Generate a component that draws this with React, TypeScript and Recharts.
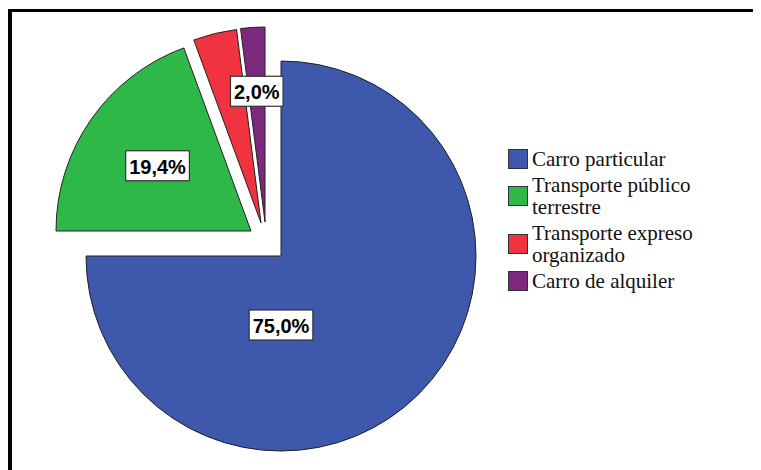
import { Cell, Pie, PieChart } from "recharts"

const categories = [
  "Carro particular",
  "Transporte público terrestre",
  "Transporte expreso organizado",
  "Carro de alquiler",
]
const shares = [75.0, 19.4, 3.6, 2.0]
const colors = ["#3E58AC", "#2EB848", "#EF3340", "#7C287D"]
const showLabel = [true, true, false, true]

const data = categories.map((name, i) => ({ name, value: shares[i] }))

const W = 753
const H = 462
const CX = 273
const CY = 248
const R = 195

// SPSS pulls every slice except the big one out a little
const offsets = [
  [0, 0],
  [-30, -25],
  [-20, -33],
  [-16, -34],
]
// distance of the % box from the slice tip (angle only where SPSS ignores the mid angle)
const labelSpots: { r: number; angle?: number }[] = [{ r: 69, angle: -90 }, { r: 114 }, { r: 0 }, { r: 131 }]

const RAD = Math.PI / 180
const charW: Record<string, number> = { ",": 0.278, "%": 0.889 }
const textWidth = (s: string, size: number) =>
  s.split("").reduce((w, c) => w + (charW[c] ?? 0.556), 0) * size

const fmt = (v: number) => `${v.toFixed(1).replace(".", ",")}%`

function makeLabel(target: number) {
  return (props: any) => {
    const { cx, cy, midAngle, index, value } = props
    if (index !== target || !showLabel[index]) return <g />
    const spot = labelSpots[index]
    const a = spot.angle ?? midAngle
    const x = cx + Math.cos(-a * RAD) * spot.r
    const y = cy + Math.sin(-a * RAD) * spot.r
    const text = fmt(value)
    const w = textWidth(text, 20) + 7
    const h = 30
    return (
      <g>
        <rect x={x - w / 2} y={y - h / 2} width={w} height={h} fill="#fff" stroke="#333" strokeWidth={1.2} />
        <text
          x={x}
          y={y + 1}
          textAnchor="middle"
          dominantBaseline="central"
          fontFamily="'Liberation Sans', Arial, sans-serif"
          fontWeight="bold"
          fontSize={20}
          fill="#000"
        >
          {text}
        </text>
      </g>
    )
  }
}

const LegendBox = () => (
  <div
    style={{
      position: "absolute",
      left: 500,
      top: 140,
      fontFamily: "'Liberation Serif', 'Times New Roman', serif",
      fontSize: 21,
      lineHeight: "22px",
      color: "#111",
    }}
  >
    {categories.map((name, i) => (
      <div key={name} style={{ display: "flex", alignItems: "center", marginBottom: 4 }}>
        <div
          style={{
            width: 18,
            height: 18,
            background: colors[i],
            border: "1px solid #333",
            marginRight: 4,
            flexShrink: 0,
          }}
        />
        <div style={{ width: 175 }}>{name}</div>
      </div>
    ))}
  </div>
)

export default function App() {
  return (
    <div style={{ position: "relative", width: W, height: H, overflow: "hidden", background: "#fff" }}>
      <PieChart width={W} height={H} margin={{ top: 0, right: 0, bottom: 0, left: 0 }}>
        {offsets.map(([dx, dy], k) => (
          <Pie
            key={k}
            data={data}
            dataKey="value"
            nameKey="name"
            cx={CX + dx}
            cy={CY + dy}
            outerRadius={R}
            startAngle={90}
            endAngle={-270}
            isAnimationActive={false}
            labelLine={false}
            label={makeLabel(k)}
          >
            {data.map((d, i) => (
              <Cell
                key={`cell-${i}`}
                fill={i === k ? colors[i] : "none"}
                stroke={i === k ? "#222" : "none"}
                strokeWidth={1}
              />
            ))}
          </Pie>
        ))}
      </PieChart>
      <LegendBox />
      <div
        style={{
          position: "absolute",
          left: 0,
          top: 1,
          width: W,
          height: H,
          borderTop: "3px solid #000",
          borderLeft: "4px solid #000",
          pointerEvents: "none",
        }}
      />
    </div>
  )
}
